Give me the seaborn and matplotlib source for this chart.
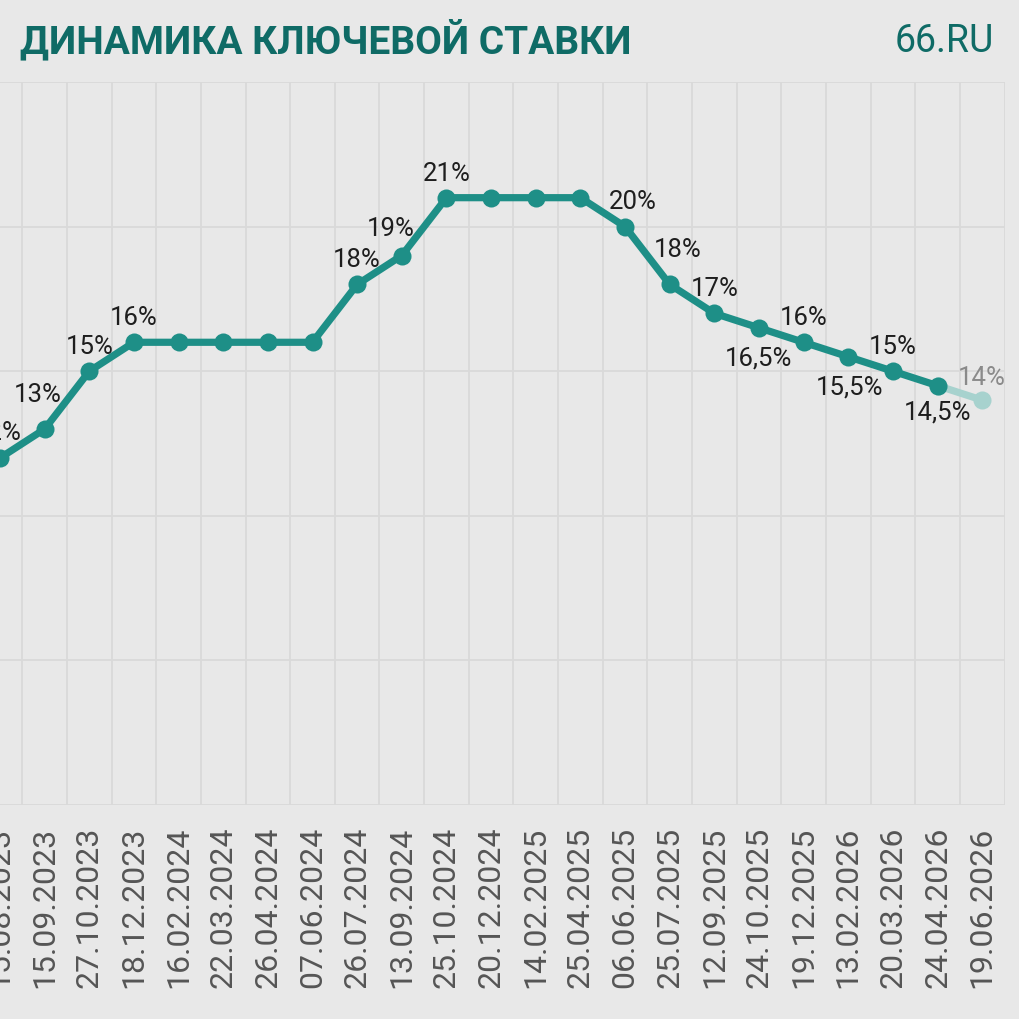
import matplotlib
matplotlib.use("Agg")
import matplotlib.pyplot as plt
import seaborn as sns
import pandas as pd
import numpy as np

# ---- data ----
dates = ["15.08.2023", "15.09.2023", "27.10.2023", "18.12.2023", "16.02.2024",
         "22.03.2024", "26.04.2024", "07.06.2024", "26.07.2024", "13.09.2024",
         "25.10.2024", "20.12.2024", "14.02.2025", "25.04.2025", "06.06.2025",
         "25.07.2025", "12.09.2025", "24.10.2025", "19.12.2025", "13.02.2026",
         "20.03.2026", "24.04.2026", "19.06.2026"]
rates = [12, 13, 15, 16, 16, 16, 16, 16, 18, 19, 21, 21, 21, 21, 20, 18, 17,
         16.5, 16, 15.5, 15, 14.5, 14]
point_labels = ["12%", "13%", "15%", "16%", "", "", "", "", "18%", "19%", "21%",
                "", "", "", "20%", "18%", "17%", "16,5%", "16%", "15,5%", "15%",
                "14,5%", "14%"]
n_actual = 22  # last point is a forecast
title = "ДИНАМИКА КЛЮЧЕВОЙ СТАВКИ"
brand = "66.RU"

# ---- style ----
BG = "#e8e8e8"
GRID = "#d9d9d9"
TEAL = "#1e8f87"
LIGHT = "#a7d2ce"
TITLE_C = "#0f6b66"
TICK_C = "#555555"

sns.set_style("white")
plt.rcParams["font.family"] = ["Roboto", "DejaVu Sans"]

df = pd.DataFrame({"i": np.arange(len(rates)), "rate": rates})

W = 1020
fig = plt.figure(figsize=(10.2, 10.2), dpi=100)
fig.patch.set_facecolor(BG)
ax = fig.add_axes([-22.3 / W, 214 / W, 1026.8 / W, 723 / W])
ax.set_facecolor(BG)

fc = df.iloc[n_actual - 1:]
act = df.iloc[:n_actual]
sns.lineplot(data=fc, x="i", y="rate", color=LIGHT, linewidth=5.2, marker="o",
             markersize=13, markeredgewidth=0, ax=ax, zorder=3)
sns.lineplot(data=act, x="i", y="rate", color=TEAL, linewidth=5.2, marker="o",
             markersize=13, markeredgewidth=0, ax=ax, zorder=4)

# label placement offsets in pixels (dx, dy up)
offsets = {0: (-2, 26), 1: (-7, 35), 9: (-11, 28), 14: (8, 26), 15: (8, 35),
           17: (0, -30), 19: (1, -30), 21: (0, -26), 22: (0, 23)}
for i, (r, lab) in enumerate(zip(rates, point_labels)):
    if not lab:
        continue
    dx, dy = offsets.get(i, (0, 25))
    col = "#8a8a8a" if i >= n_actual else "#1e1e1e"
    ax.annotate(lab, (i, r), xytext=(dx * 0.72, dy * 0.72),
                textcoords="offset points", ha="center", va="center",
                fontsize=18.5, color=col, zorder=5)

ax.set_xlim(-0.5, len(rates) - 0.5)
ax.set_ylim(0, 25)
ax.set_xticks(np.arange(len(rates)))
ax.set_xticklabels(dates, rotation=90, fontsize=23, color=TICK_C)
ax.set_xticks(np.arange(-0.5, len(rates), 1), minor=True)
ax.set_yticks(np.arange(0, 26, 5))
ax.set_yticklabels([])
ax.tick_params(axis="x", which="both", length=0, pad=15)
ax.tick_params(axis="y", length=0)
ax.grid(False)
ax.grid(axis="x", which="minor", color=GRID, linewidth=1.3)
ax.grid(axis="y", which="major", color=GRID, linewidth=1.3)
for s in ax.spines.values():
    s.set_visible(False)
ax.set_xlabel("")
ax.set_ylabel("")
legend = ax.get_legend()
if legend:
    legend.remove()

fig.text(20 / W, 1 - 53 / W, title, fontsize=28, fontweight="bold",
         color=TITLE_C, ha="left", va="baseline")
fig.text(994 / W, 1 - 52 / W, brand, fontsize=27, fontweight="normal",
         color=TITLE_C, ha="right", va="baseline")

fig.savefig("out.png", dpi=100, facecolor=BG)
